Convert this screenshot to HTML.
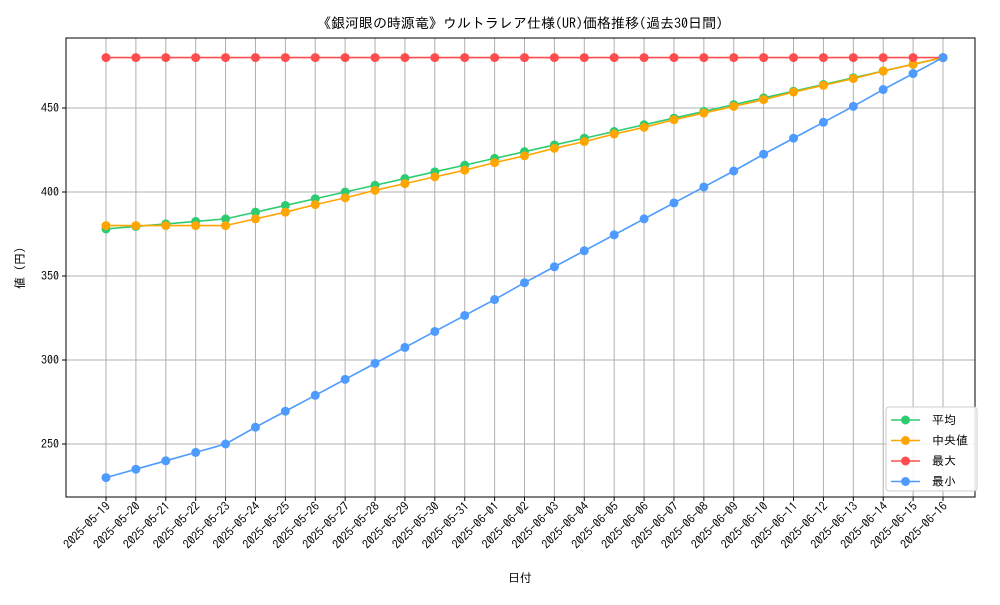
<!DOCTYPE html>
<html><head><meta charset="utf-8">
<style>
body{margin:0;background:#fff;}
svg text{font-family:"IPAGothic","Noto Sans CJK JP",sans-serif;fill:#000;}
</style></head>
<body>
<svg id="chart" width="1000" height="600" xmlns="http://www.w3.org/2000/svg">
<text x="520" y="28" font-size="14" text-anchor="middle">《銀河眼の時源竜》ウルトラレア仕様(UR)価格推移(過去30日間)</text>
<g id="grid"></g>
<g id="axes"></g>
<g id="series"></g>
<rect x="66" y="38" width="909" height="459" fill="none" stroke="#000" stroke-width="1"/>
<text x="520" y="582" font-size="12" text-anchor="middle">日付</text>
<text transform="translate(24,268) rotate(-90)" font-size="12" text-anchor="middle">値 (円)</text>
<g id="legend">
<rect x="886" y="407" width="91" height="84" rx="3" fill="#fff" fill-opacity="0.85" stroke="#ccc"/>
</g>
</svg>
<script>
const dates=["2025-05-19","2025-05-20","2025-05-21","2025-05-22","2025-05-23","2025-05-24","2025-05-25","2025-05-26","2025-05-27","2025-05-28","2025-05-29","2025-05-30","2025-05-31","2025-06-01","2025-06-02","2025-06-03","2025-06-04","2025-06-05","2025-06-06","2025-06-07","2025-06-08","2025-06-09","2025-06-10","2025-06-11","2025-06-12","2025-06-13","2025-06-14","2025-06-15","2025-06-16"];
const avgValues=[378,379.5,381,382.5,384,388,392,396,400,404,408,412,416,420,424,428,432,436,440,444,448,452,456,460,464,468,472,476,480];
const medianValues=[380,380,380,380,380,384,388,392.5,396.5,401,405,409,413,417.5,421.5,426,430,434.5,438.5,443,447,451,455,459.5,463.5,467.5,472,476,480];
const maxValues=[480,480,480,480,480,480,480,480,480,480,480,480,480,480,480,480,480,480,480,480,480,480,480,480,480,480,480,480,480];
const minValues=[230,235,240,245,250,260,269.5,279,288.5,298,307.5,317,326.5,336,346,355.5,365,374.5,384,393.5,403,412.5,422.5,432,441.5,451,461,470.5,480];
const yTicks=[250,300,350,400,450];
const seriesNames=["平均","中央値","最大","最小"];
const NS="http://www.w3.org/2000/svg";
function xScale(i){return 106+i*(943-106)/(dates.length-1);}
function yScale(v){return 444-(v-250)*1.68;}
function mk(tag,attrs,parent){const e=document.createElementNS(NS,tag);for(const k in attrs)e.setAttribute(k,attrs[k]);parent.appendChild(e);return e;}
const grid=document.getElementById('grid'),axes=document.getElementById('axes'),ser=document.getElementById('series'),leg=document.getElementById('legend');
dates.forEach((d,i)=>{const x=xScale(i);
 const l=mk('line',{x1:x,x2:x,y1:38,y2:497,stroke:'#b0b0b0','stroke-width':1},grid);
 
 
 mk('line',{x1:x,x2:x,y1:497,y2:501,stroke:'#000'},axes);
 const t=mk('text',{x:x+5,y:507,'font-size':12,'text-anchor':'end',transform:`rotate(-45 ${x+5} 507)`},axes);
 
 
 t.textContent=d;});
yTicks.forEach(v=>{const y=yScale(v);
 const l=mk('line',{x1:66,x2:975,y1:y,y2:y,stroke:'#b0b0b0','stroke-width':1},grid);
 
 
 mk('line',{x1:62,x2:66,y1:y,y2:y,stroke:'#000'},axes);
 const t=mk('text',{x:59,y:y+4,'font-size':12,'text-anchor':'end'},axes);
 
 
 t.textContent=v;});
const colors=["#2ecc71","#ffa500","#ff4d4d","#4d9bff"];
const all=[avgValues,medianValues,maxValues,minValues];
const keys=["avg","median","max","min"];
all.forEach((vals,s)=>{
 const g=mk('g',{},ser);
 
 
 mk('polyline',{points:vals.map((v,i)=>xScale(i)+','+yScale(v)).join(' '),fill:'none',stroke:colors[s],'stroke-width':1.6},g);
 vals.forEach((v,i)=>{const c=mk('circle',{cx:xScale(i),cy:yScale(v),r:4.5,fill:colors[s]},g);
  
  });
 const ly=420+s*20.5;
 const e=mk('g',{},leg);
 
 
 mk('line',{x1:891,x2:920,y1:ly,y2:ly,stroke:colors[s],'stroke-width':1.6},e);
 mk('circle',{cx:905.5,cy:ly,r:4.5,fill:colors[s]},e);
 const t=mk('text',{x:932,y:ly+4,'font-size':12},e);
 t.textContent=seriesNames[s];
});
</script>
</body></html>
